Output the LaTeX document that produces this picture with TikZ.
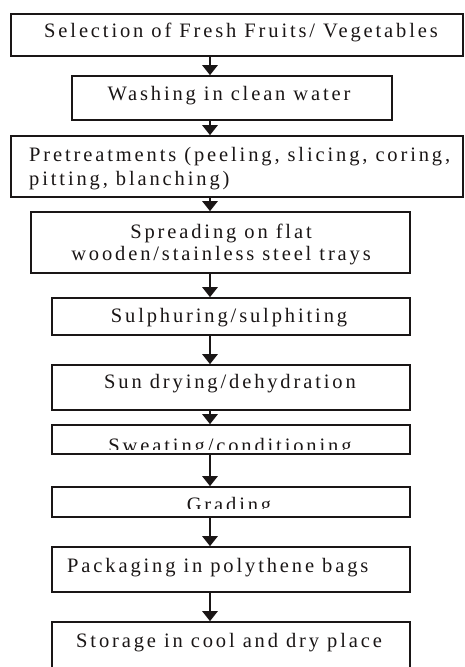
\documentclass[tikz,border=0pt]{standalone}
\usepackage{fontspec}
\setmainfont{Liberation Serif}[LetterSpace=14]
\usetikzlibrary{arrows.meta}
\definecolor{ink}{HTML}{1A1616}
\tikzset{
  box/.style={draw=ink, line width=1.6pt, fill=none, inner sep=0pt},
  txt/.style={text=ink, inner sep=0pt, font=\fontsize{20.5}{22}\selectfont},
  arr/.style={draw=ink, line width=2.6pt, -{Triangle[width=15pt,length=10pt]}}
}
\begin{document}
\begin{tikzpicture}[x=1pt,y=-1pt]
\clip (0,0) rectangle (464,667);
\fill[white] (0,0) rectangle (464,667);
\coordinate (ax) at (210,0);
% boxes
\node[box, minimum width=452pt, minimum height=42pt] (b1) at (237,35) {};
\node[box, minimum width=320pt, minimum height=44pt] (b2) at (232,98) {};
\node[box, minimum width=452pt, minimum height=61pt] (b3) at (237,166.5) {};
\node[box, minimum width=379pt, minimum height=61pt] (b4) at (220.5,242.5) {};
\node[box, minimum width=358pt, minimum height=37pt] (b5) at (231,316.5) {};
\node[box, minimum width=358pt, minimum height=45pt] (b6) at (231,387.5) {};
\node[box, minimum width=358pt, minimum height=29pt] (b7) at (231,439.5) {};
\node[box, minimum width=358pt, minimum height=30pt] (b8) at (231,502) {};
\node[box, minimum width=358pt, minimum height=45pt] (b9) at (231,569.5) {};
\node[box, minimum width=358pt, minimum height=68pt] (b10) at (231,656) {};
% texts
\node[txt, anchor=base] (t1) at (241,37) {Selection of Fresh Fruits/ Vegetables};
\node[txt, anchor=base] (t2) at (229,100) {Washing in clean water};
\node[txt, anchor=base west] (t3a) at (29,161) {Pretreatments (peeling, slicing, coring,};
\node[txt, anchor=base west] (t3b) at (29,185) {pitting, blanching)};
\node[txt, anchor=base] (t4a) at (221,238) {Spreading on flat};
\node[txt, anchor=base] (t4b) at (221,260) {wooden/stainless steel trays};
\node[txt, anchor=base] (t5) at (229,322) {Sulphuring/sulphiting};
\node[txt, anchor=base] (t6) at (230,388) {Sun drying/dehydration};
\begin{scope}
\clip (b7.north west) rectangle (410,449);
\node[txt, anchor=base] (t7) at (230,452) {Sweating/conditioning};
\end{scope}
\begin{scope}
\clip (b8.north west) rectangle (410,508);
\node[txt, anchor=base] (t8) at (229,511) {Grading};
\end{scope}
\node[txt, anchor=base west] (t9) at (67,572) {Packaging in polythene bags};
\node[txt, anchor=base west] (t10) at (76,647) {Storage in cool and dry place};
% arrows
\draw[arr] (b1.south -| ax) -- (b2.north -| ax);
\draw[arr] (b2.south -| ax) -- (b3.north -| ax);
\draw[arr] (b3.south -| ax) -- (b4.north -| ax);
\draw[arr] (b4.south -| ax) -- (b5.north -| ax);
\draw[arr] (b5.south -| ax) -- (b6.north -| ax);
\draw[arr] (b6.south -| ax) -- (b7.north -| ax);
\draw[arr] (b7.south -| ax) -- (b8.north -| ax);
\draw[arr] (b8.south -| ax) -- (b9.north -| ax);
\draw[arr] (b9.south -| ax) -- (b10.north -| ax);
\end{tikzpicture}
\end{document}
